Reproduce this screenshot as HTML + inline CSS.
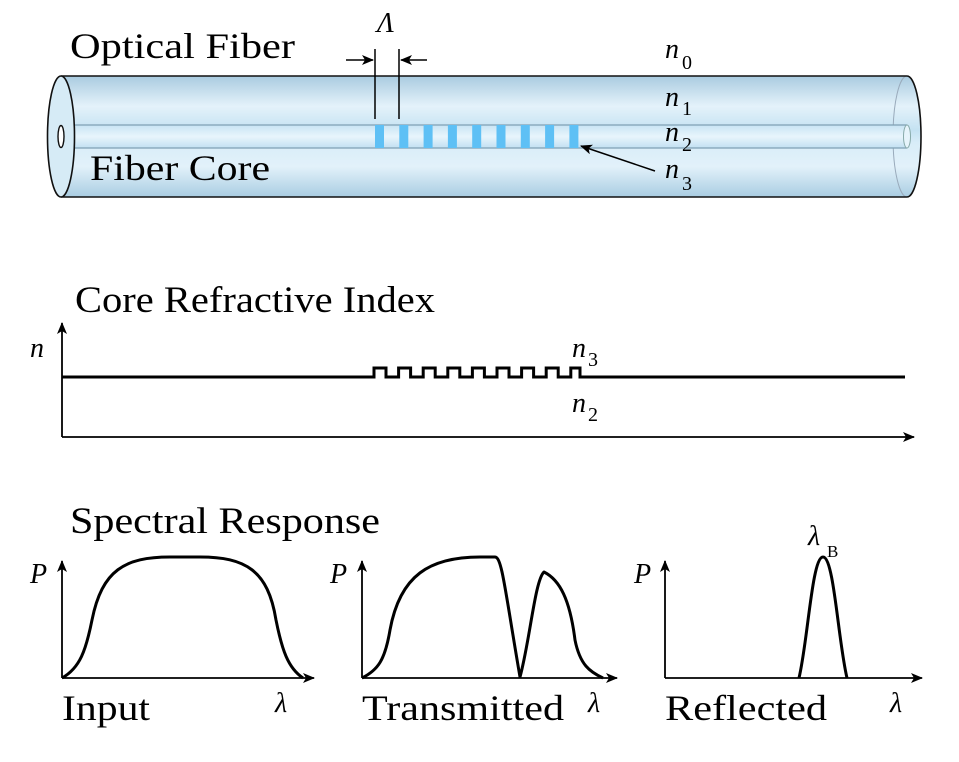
<!DOCTYPE html>
<html><head><meta charset="utf-8"><style>html,body{margin:0;padding:0;background:#fff}svg{display:block}svg text{font-family:"Liberation Serif","Times New Roman",serif}</style></head>
<body>
<svg width="959" height="762" viewBox="0 0 959 762" xmlns="http://www.w3.org/2000/svg">
<defs>
<linearGradient id="fg" x1="0" y1="0" x2="0" y2="1">
<stop offset="0" stop-color="#a9cbe0"/>
<stop offset="0.25" stop-color="#e4f2fa"/>
<stop offset="0.45" stop-color="#c4e2f2"/>
<stop offset="0.55" stop-color="#d8edf8"/>
<stop offset="0.75" stop-color="#e2f1fa"/>
<stop offset="1" stop-color="#a9cde2"/>
</linearGradient>
<linearGradient id="cg" x1="0" y1="0" x2="0" y2="1">
<stop offset="0" stop-color="#c8e4f4"/>
<stop offset="0.5" stop-color="#e8f5fc"/>
<stop offset="1" stop-color="#c2e0f2"/>
</linearGradient>
<marker id="ah" markerWidth="12" markerHeight="10" refX="11" refY="5" orient="auto" markerUnits="userSpaceOnUse">
<path d="M0,0 L12,5 L0,10 L3,5 Z" fill="#000"/>
</marker>
</defs>

<path d="M61,76 L907,76 A14,60.5 0 0 1 907,197 L61,197 Z" fill="url(#fg)"/>
<ellipse cx="907" cy="136.5" rx="14" ry="60.5" fill="none" stroke="#9ab" stroke-width="1"/>
<rect x="61" y="125" width="846" height="23" fill="url(#cg)"/>
<line x1="61" y1="125" x2="907" y2="125" stroke="#7fa0b4" stroke-width="1.2"/>
<line x1="61" y1="148" x2="907" y2="148" stroke="#7fa0b4" stroke-width="1.2"/>
<ellipse cx="907" cy="136.5" rx="3.5" ry="11.5" fill="#e6f4fb" stroke="#8aa" stroke-width="1"/>
<path d="M61,76 L907,76 A14,60.5 0 0 1 907,197 L61,197" fill="none" stroke="#111" stroke-width="1.6"/>
<ellipse cx="61" cy="136.5" rx="13.5" ry="60.5" fill="#d6ebf6" stroke="#111" stroke-width="1.6"/>
<ellipse cx="61" cy="136.5" rx="3" ry="11" fill="#fff" stroke="#111" stroke-width="1.4"/>

<g fill="#5ec0f5">
<rect x="375" y="125" width="9" height="23"/><rect x="399.3" y="125" width="9" height="23"/>
<rect x="423.6" y="125" width="9" height="23"/><rect x="447.9" y="125" width="9" height="23"/>
<rect x="472.2" y="125" width="9" height="23"/><rect x="496.5" y="125" width="9" height="23"/>
<rect x="520.8" y="125" width="9" height="23"/><rect x="545.1" y="125" width="9" height="23"/>
<rect x="569.4" y="125" width="9" height="23"/>
</g>

<line x1="375" y1="49" x2="375" y2="119" stroke="#000" stroke-width="1.5"/>
<line x1="399" y1="49" x2="399" y2="119" stroke="#000" stroke-width="1.5"/>
<line x1="346" y1="60" x2="373" y2="60" stroke="#000" stroke-width="1.5" marker-end="url(#ah)"/>
<line x1="427" y1="60" x2="401" y2="60" stroke="#000" stroke-width="1.5" marker-end="url(#ah)"/>
<text x="377" y="32" font-size="28" font-style="italic">Λ</text>
<line x1="655" y1="171" x2="581" y2="146" stroke="#000" stroke-width="1.5" marker-end="url(#ah)"/>

<text x="70" y="58" font-size="36" textLength="225" lengthAdjust="spacingAndGlyphs">Optical Fiber</text>
<text x="90" y="180" font-size="36" textLength="180" lengthAdjust="spacingAndGlyphs">Fiber Core</text>

<g font-size="28" font-style="italic">
<text x="665" y="58">n</text><text x="665" y="106">n</text><text x="665" y="141">n</text><text x="665" y="178">n</text>
</g>
<g font-size="20">
<text x="682" y="69">0</text><text x="682" y="115">1</text><text x="682" y="151">2</text><text x="682" y="190">3</text>
</g>

<text x="75" y="312" font-size="37" textLength="360" lengthAdjust="spacingAndGlyphs">Core Refractive Index</text>
<line x1="62" y1="437" x2="62" y2="323" stroke="#000" stroke-width="1.8" marker-end="url(#ah)"/>
<line x1="62" y1="437" x2="914" y2="437" stroke="#000" stroke-width="1.8" marker-end="url(#ah)"/>
<path d="M62,377 H374 V368 H386 V377 H398.6 V368 H410.6 V377 H423.2 V368 H435.2 V377 H447.8 V368 H459.8 V377 H472.4 V368 H484.4 V377 H497 V368 H509 V377 H521.6 V368 H533.6 V377 H546.2 V368 H558.2 V377 H570.8 V368 H580 V377 H905" fill="none" stroke="#000" stroke-width="3"/>
<text x="30" y="357" font-size="28" font-style="italic">n</text>
<text x="572" y="357" font-size="28" font-style="italic">n</text><text x="588" y="366" font-size="20">3</text>
<text x="572" y="412" font-size="28" font-style="italic">n</text><text x="588" y="421" font-size="20">2</text>

<text x="70" y="533" font-size="37" textLength="310" lengthAdjust="spacingAndGlyphs">Spectral Response</text>

<g stroke="#000" stroke-width="1.8" fill="none">
<line x1="62" y1="678" x2="62" y2="561" marker-end="url(#ah)"/>
<line x1="62" y1="678" x2="314" y2="678" marker-end="url(#ah)"/>
<line x1="362" y1="678" x2="362" y2="561" marker-end="url(#ah)"/>
<line x1="362" y1="678" x2="617" y2="678" marker-end="url(#ah)"/>
<line x1="665" y1="678" x2="665" y2="561" marker-end="url(#ah)"/>
<line x1="665" y1="678" x2="922" y2="678" marker-end="url(#ah)"/>
</g>
<g stroke="#000" stroke-width="3" fill="none" stroke-linejoin="round">
<path d="M62,678 C80,668 86,650 92,620 C102,570 125,557 170,557 L200,557 C245,557 268,570 276,620 C282,650 288,668 303,678"/>
<path d="M362,678 C378,670 385,660 390,630 C400,575 430,557 480,557 L495,557 C502,557 505,590 520,677 C530,640 535,580 544,572 C560,580 570,600 575,640 C580,665 590,672 603,678"/>
<path d="M799,678 C808,640 812,557 823,557 C834,557 838,640 847,678"/>
</g>
<g font-size="28" font-style="italic">
<text x="30" y="583">P</text><text x="330" y="583">P</text><text x="634" y="583">P</text>
<text x="275" y="712">λ</text><text x="588" y="712">λ</text><text x="890" y="712">λ</text>
<text x="808" y="545">λ</text>
</g>
<text x="827" y="557" font-size="17">B</text>
<g font-size="36">
<text x="62" y="720" textLength="88" lengthAdjust="spacingAndGlyphs">Input</text>
<text x="362" y="720" textLength="202" lengthAdjust="spacingAndGlyphs">Transmitted</text>
<text x="665" y="720" textLength="162" lengthAdjust="spacingAndGlyphs">Reflected</text>
</g>
</svg>
</body></html>
